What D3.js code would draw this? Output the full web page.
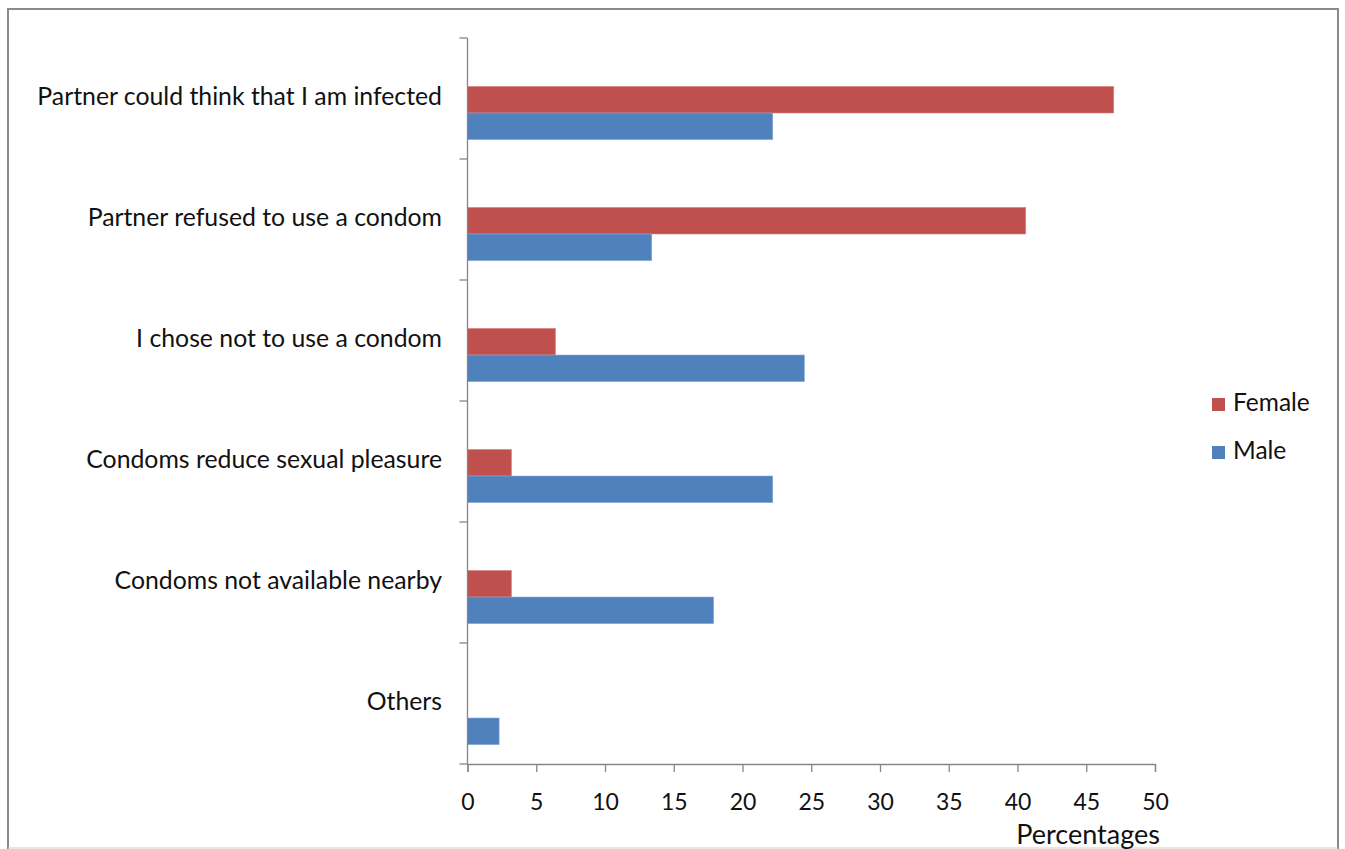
<!DOCTYPE html>
<html><head><meta charset="utf-8">
<script src="https://cdn.jsdelivr.net/npm/d3@7"></script>
<style>body{margin:0;background:#fff}svg{display:block}</style>
</head><body>
<svg id="c" width="1345" height="849"></svg>
<script>
const categories = ["Partner could think that I am infected","Partner refused to use a condom","I chose not to use a condom","Condoms reduce sexual pleasure","Condoms not available nearby","Others"];
const female = [47, 40.6, 6.4, 3.2, 3.2, 0];
const male = [22.2, 13.4, 24.5, 22.2, 17.9, 2.3];
const seriesNames = ["Female","Male"];
const colors = ["#C0504D","#4F81BD"];
const xTicks = [0,5,10,15,20,25,30,35,40,45,50];

const svg = d3.select("#c");
const font = "Lato, 'Open Sans', sans-serif";
const txt = "#111";
svg.append("path").attr("d","M8,849 L8,9 L1338,9 L1338,849")
  .attr("fill","none").attr("stroke","#8a8a8a").attr("stroke-width",2);
svg.append("line").attr("x1",8).attr("x2",1338).attr("y1",848).attr("y2",848)
  .attr("stroke","#cfcfcf").attr("stroke-width",1);

const x = d3.scaleLinear().domain([0,50]).range([467.5,1155]);
const y = d3.scaleBand().domain(categories).range([38,764]).padding(0);
const sub = d3.scaleBand().domain(seriesNames).range([0,y.bandwidth()*0.44]);
const barOffset = y.bandwidth()*0.40;

const g = svg.append("g");
categories.forEach((c,i)=>{
  const vals=[female[i],male[i]];
  seriesNames.forEach((s,j)=>{
    if(vals[j]<=0) return;
    g.append("rect").attr("x",x(0)).attr("y",y(c)+barOffset+sub(s))
      .attr("width",x(vals[j])-x(0)).attr("height",sub.bandwidth())
      .attr("fill",colors[j]).attr("stroke", j===0?"#d88a88":"#8aa8d6").attr("stroke-width",0.6);
  });
});

// x axis
const xa = svg.append("g").attr("transform","translate(0,764)")
  .call(d3.axisBottom(x).tickValues(xTicks).tickSize(8).tickPadding(22).tickFormat(d3.format("d")));
xa.select(".domain").attr("stroke","#868686").attr("stroke-width",1.3);
xa.selectAll(".tick line").attr("stroke","#868686").attr("stroke-width",1.3);
xa.selectAll("text").attr("font-family",font).attr("font-size",23).attr("fill",txt);

// y axis line and boundary ticks
const yb = svg.append("g");
yb.append("line").attr("x1",x(0)).attr("x2",x(0)).attr("y1",38).attr("y2",764).attr("stroke","#868686").attr("stroke-width",1.3);
d3.range(categories.length+1).forEach(k=>{
  const yy = 38 + k*y.step();
  yb.append("line").attr("x1",x(0)-8).attr("x2",x(0)).attr("y1",yy).attr("y2",yy).attr("stroke","#868686").attr("stroke-width",1.3);
});
categories.forEach(c=>{
  yb.append("text").attr("x",442).attr("y",y(c)+y.bandwidth()/2).attr("text-anchor","end")
    .attr("dominant-baseline","middle").attr("font-family",font).attr("font-size",24.8).attr("fill",txt).text(c);
});

svg.append("text").attr("x",1160).attr("y",844).attr("text-anchor","end")
  .attr("font-family",font).attr("font-size",27).attr("fill",txt).text("Percentages");

// legend
seriesNames.forEach((s,j)=>{
  const ly = 405 + j*48;
  svg.append("rect").attr("x",1212).attr("y",ly-7).attr("width",13).attr("height",13).attr("fill",colors[j]);
  svg.append("text").attr("x",1233).attr("y",ly).attr("dominant-baseline","middle")
    .attr("font-family",font).attr("font-size",24.5).attr("fill",txt).text(s);
});
</script>
</body></html>
